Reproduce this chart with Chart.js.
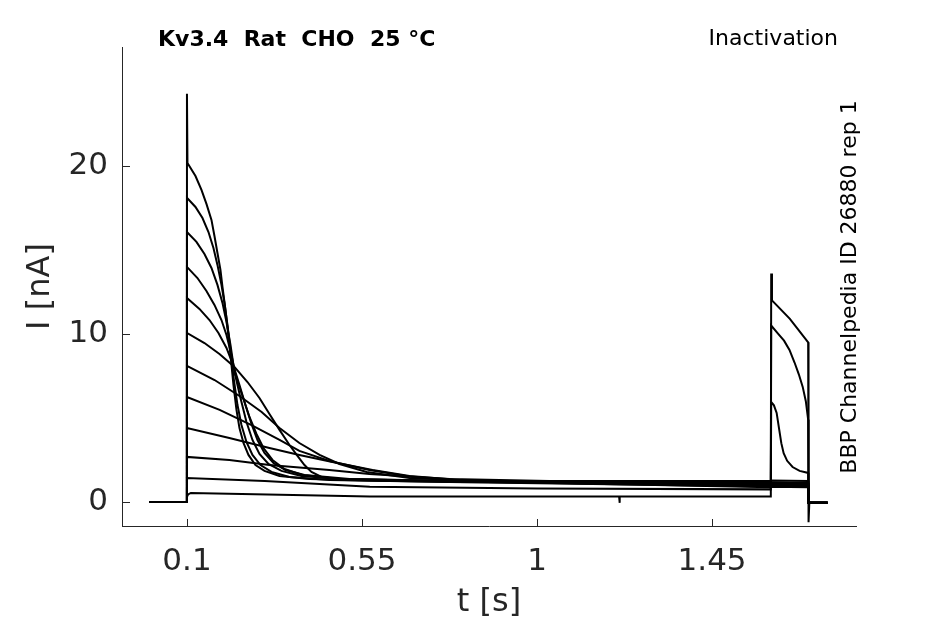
<!DOCTYPE html>
<html>
<head>
<meta charset="utf-8">
<title>Kv3.4 Rat CHO 25 °C - Inactivation</title>
<script src="https://cdn.jsdelivr.net/npm/chart.js@4.4.1/dist/chart.umd.min.js"></script>
<style>
    html, body { margin: 0; padding: 0; background: #ffffff; }
    #wrap { width: 945px; height: 624px; }
</style>
</head>
<body>
<div id="wrap"><canvas id="traceChart" width="945" height="624"></canvas></div>
<script>
// Axis ranges and ticks
const xRange = [-0.067, 1.82];
const yRange = [-1.43, 27.08];
const xTicks = [0.1, 0.55, 1, 1.45];
const yTicks = [0, 10, 20];

// Texts
const titleText = 'Kv3.4  Rat  CHO  25 °C';
const protocolText = 'Inactivation';
const sourceText = 'BBP Channelpedia ID 26880 rep 1';

// Holding segment before the prepulse, shared by all sweeps  [t (s), I (nA)]
const holding = [[0.004, 0], [0.0995, 0]];
// Back to holding after the test pulse
const tailLevel = [[1.698, -0.05], [1.747, -0.05]];
const tailSpike = [[1.698, -1.2], [1.7, -0.05], [1.747, -0.05]];

// Sweeps: prepulse (0.1 - 1.6 s) then test pulse (1.6 - 1.7 s), largest prepulse first
const sweep01 = [[0.1, 24.3], [0.1013, 20.18], [0.1219, 19.4], [0.1373, 18.57], [0.1501, 17.74], [0.163, 16.79],
    [0.1707, 15.83], [0.1784, 14.82], [0.1861, 13.81], [0.1913, 12.8], [0.199, 11.43], [0.2041, 10.42],
    [0.2119, 8.75], [0.2196, 6.96], [0.2273, 5.48], [0.235, 4.4], [0.2453, 3.51], [0.2581, 2.8], [0.2761, 2.2],
    [0.2993, 1.85], [0.3379, 1.55], [0.415, 1.37], [0.6464, 1.25], [1.601, 1.25], [1.602, 1.28], [1.697, 1.25]];
const sweep02 = [[0.1, 18.1], [0.1219, 17.56], [0.1399, 16.9], [0.1553, 16.07], [0.1681, 15.12], [0.1784, 14.11],
    [0.1887, 12.92], [0.1964, 11.85], [0.2041, 10.54], [0.2119, 9.05], [0.2196, 7.44], [0.2299, 5.77],
    [0.2401, 4.58], [0.253, 3.57], [0.2684, 2.8], [0.289, 2.2], [0.3173, 1.79], [0.3636, 1.49], [0.4664, 1.31],
    [0.775, 1.19], [1.601, 1.15], [1.602, 1.18], [1.697, 1.15]];
const sweep03 = [[0.1, 16.07], [0.1244, 15.48], [0.145, 14.76], [0.163, 13.93], [0.1784, 12.92], [0.1913, 11.85],
    [0.2016, 10.71], [0.2119, 9.35], [0.2221, 7.74], [0.2376, 6.19], [0.253, 4.76], [0.2684, 3.69],
    [0.2864, 2.86], [0.3096, 2.26], [0.343, 1.85], [0.3944, 1.55], [0.4921, 1.37], [0.9036, 1.2],
    [1.601, 1.1], [1.602, 1.12], [1.697, 1.1]];
const sweep04 = [[0.1, 13.99], [0.127, 13.33], [0.1501, 12.56], [0.1707, 11.73], [0.1887, 10.83], [0.2016, 9.94],
    [0.2144, 8.75], [0.2247, 7.56], [0.2427, 6.31], [0.2607, 5.06], [0.2787, 4.05], [0.2967, 3.21],
    [0.3199, 2.5], [0.3507, 1.96], [0.397, 1.61], [0.4921, 1.37], [0.9036, 1.18], [1.601, 1.0],
    [1.602, 1.02], [1.697, 1.0]];
const sweep05 = [[0.1, 12.14], [0.1321, 11.49], [0.1579, 10.83], [0.181, 10.06], [0.2016, 9.17], [0.2196, 8.1],
    [0.235, 6.96], [0.2504, 5.77], [0.2659, 4.64], [0.2813, 3.69], [0.2993, 2.92], [0.3224, 2.32],
    [0.3533, 1.9], [0.4021, 1.61], [0.5179, 1.37], [1.0321, 1.15], [1.601, 0.95], [1.602, 0.98], [1.697, 0.95]];
const sweep06 = [[0.1, 10.06], [0.145, 9.46], [0.1836, 8.81], [0.2221, 8.04], [0.2556, 7.14], [0.2864, 6.19],
    [0.3121, 5.24], [0.3379, 4.29], [0.3636, 3.39], [0.3841, 2.74], [0.4021, 2.2], [0.4201, 1.79],
    [0.4459, 1.49], [0.505, 1.31], [0.775, 1.19], [1.601, 0.92], [1.602, 0.95], [1.697, 0.92]];
const sweep07 = [[0.1, 8.1], [0.171, 7.26], [0.235, 6.31], [0.292, 5.36], [0.338, 4.4], [0.389, 3.51],
    [0.441, 2.8], [0.492, 2.26], [0.562, 1.79], [0.672, 1.43], [0.904, 1.19], [1.601, 0.88], [1.602, 0.9],
    [1.697, 0.88]];
const sweep08 = [[0.1, 6.25], [0.184, 5.48], [0.266, 4.58], [0.338, 3.69], [0.389, 3.04], [0.466, 2.44],
    [0.569, 1.9], [0.68, 1.49], [0.826, 1.25], [1.161, 1.13], [1.601, 1.05], [1.602, 1.08], [1.697, 1.05]];
const sweep09 = [[0.1, 4.4], [0.209, 3.81], [0.312, 3.21], [0.389, 2.8], [0.474, 2.38], [0.577, 1.9],
    [0.672, 1.55], [0.801, 1.31], [1.032, 1.19], [1.601, 1.0], [1.602, 1.03], [1.697, 1.0]];
const sweep10 = [[0.1, 2.68], [0.209, 2.5], [0.312, 2.2], [0.466, 1.9], [0.569, 1.67], [0.775, 1.37],
    [1.032, 1.25], [1.601, 1.15], [1.602, 5.95], [1.609, 5.75], [1.616, 5.3], [1.622, 4.4], [1.628, 3.5],
    [1.634, 2.9], [1.643, 2.45], [1.657, 2.08], [1.675, 1.85], [1.697, 1.73]];
const sweep11 = [[0.1, 1.43], [0.3, 1.25], [0.57, 0.9], [1.0, 0.8], [1.601, 0.75], [1.602, 10.5], [1.62, 10.0],
    [1.635, 9.6], [1.649, 9.05], [1.662, 8.3], [1.673, 7.6], [1.683, 6.85], [1.691, 6.0], [1.697, 4.9]];
const sweep12 = [[0.1, 0.3], [0.103, 0.45], [0.11, 0.54], [0.57, 0.32], [1.0, 0.32], [1.211, 0.32],
    [1.212, -0.05], [1.213, 0.32], [1.601, 0.32], [1.602, 13.6], [1.604, 12.0], [1.65, 10.9], [1.697, 9.5]];

const sweeps = [sweep01, sweep02, sweep03, sweep04, sweep05, sweep06,
                sweep07, sweep08, sweep09, sweep10, sweep11, sweep12];

const axisColor = '#262626';
const fontFamily = '"DejaVu Sans", "Liberation Sans", sans-serif';

// Build one dataset per sweep
const datasets = sweeps.map(function(sweep, i) {
    const tail = (i === sweeps.length - 1) ? tailSpike : tailLevel;
    return {
        label: 'sweep ' + (i + 1),
        data: holding.concat(sweep, tail).map(function(p) { return { x: p[0], y: p[1] }; }),
        borderColor: '#000000',
        borderWidth: 2,
        pointRadius: 0,
        fill: false,
        tension: 0
    };
});

// Inward tick marks and the free texts around the axes
const annotate = {
    id: 'annotate',
    afterDraw(chart) {
        const { ctx, chartArea, scales } = chart;
        ctx.save();
        ctx.strokeStyle = axisColor;
        ctx.lineWidth = 1;
        ctx.beginPath();
        xTicks.forEach(function(v) {
            const px = Math.round(scales.x.getPixelForValue(v)) + 0.5;
            ctx.moveTo(px, chartArea.bottom);
            ctx.lineTo(px, chartArea.bottom - 7);
        });
        yTicks.forEach(function(v) {
            const py = Math.round(scales.y.getPixelForValue(v)) + 0.5;
            ctx.moveTo(chartArea.left, py);
            ctx.lineTo(chartArea.left + 8, py);
        });
        ctx.stroke();

        ctx.fillStyle = '#000000';
        ctx.textBaseline = 'middle';
        ctx.font = 'bold 22px ' + fontFamily;
        ctx.textAlign = 'left';
        ctx.fillText(titleText, 158, 40);

        ctx.font = '22px ' + fontFamily;
        ctx.textAlign = 'right';
        ctx.fillText(protocolText, 838, 39);

        ctx.translate(850, 287);
        ctx.rotate(-Math.PI / 2);
        ctx.textAlign = 'center';
        ctx.font = '22px ' + fontFamily;
        ctx.fillText(sourceText, 0, 0);
        ctx.restore();
    }
};

const ctx = document.getElementById('traceChart').getContext('2d');
const traceChart = new Chart(ctx, {
    type: 'line',
    data: { datasets: datasets },
    options: {
        responsive: false,
        animation: false,
        events: [],
        layout: { padding: { top: 47, right: 89, left: 0, bottom: 0 } },
        plugins: {
            legend: { display: false },
            tooltip: { enabled: false },
            title: { display: false }
        },
        scales: {
            x: {
                type: 'linear',
                min: xRange[0],
                max: xRange[1],
                afterBuildTicks: function(scale) {
                    scale.ticks = xTicks.map(function(v) { return { value: v }; });
                },
                afterFit: function(scale) { scale.height = 98; },
                grid: { display: false, drawTicks: false },
                border: { display: true, color: axisColor, width: 1 },
                ticks: {
                    color: axisColor,
                    padding: 17,
                    maxRotation: 0,
                    autoSkip: false,
                    font: { family: fontFamily, size: 31 },
                    callback: function(v) { return String(v); }
                },
                title: {
                    display: true,
                    text: 't [s]',
                    color: axisColor,
                    padding: { top: 0, bottom: 2 },
                    font: { family: fontFamily, size: 32 }
                }
            },
            y: {
                type: 'linear',
                min: yRange[0],
                max: yRange[1],
                afterBuildTicks: function(scale) {
                    scale.ticks = yTicks.map(function(v) { return { value: v }; });
                },
                afterFit: function(scale) { scale.width = 122; },
                grid: { display: false, drawTicks: false },
                border: { display: true, color: axisColor, width: 1 },
                ticks: {
                    color: axisColor,
                    padding: 14,
                    autoSkip: false,
                    font: { family: fontFamily, size: 31 },
                    callback: function(v) { return String(v); }
                },
                title: {
                    display: true,
                    text: 'I [nA]',
                    color: axisColor,
                    padding: { top: 21, bottom: 0 },
                    font: { family: fontFamily, size: 32 }
                }
            }
        }
    },
    plugins: [annotate]
});
</script>
</body>
</html>
